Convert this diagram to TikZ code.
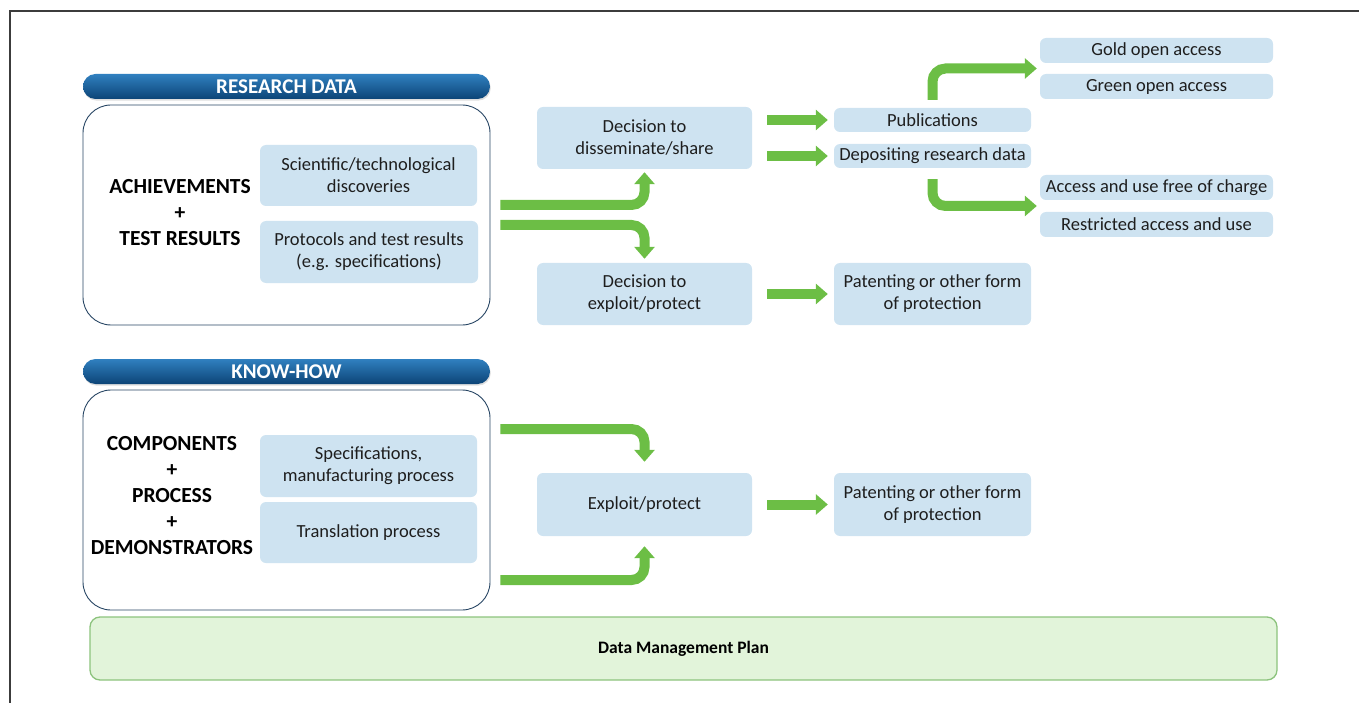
\documentclass[tikz,border=0pt]{standalone}
\usepackage{fontspec}
\setmainfont{Carlito}
\usetikzlibrary{arrows.meta,calc,shadows}

\definecolor{boxblue}{RGB}{206,227,241}
\definecolor{inktext}{RGB}{30,30,30}
\definecolor{edgeblue}{RGB}{40,70,100}
\definecolor{arrowgreen}{RGB}{108,190,69}
\definecolor{planfill}{RGB}{226,244,218}
\definecolor{planedge}{RGB}{140,195,125}
\definecolor{bannertop}{RGB}{48,128,192}
\definecolor{bannerbot}{RGB}{12,68,118}
\definecolor{framegray}{RGB}{60,60,60}

\tikzset{
  lbox/.style={fill=boxblue, rounded corners=6pt, inner sep=0pt, align=center,
    text=inktext, font=\fontsize{18.5}{22}\selectfont},
  outerbox/.style={draw=edgeblue, line width=0.9pt, fill=white, rounded corners=28pt,
    inner sep=0pt},
  banner/.style={rounded corners=12.5pt, top color=bannertop, bottom color=bannerbot,
    text=white, font=\fontsize{21}{24}\selectfont\bfseries, inner sep=0pt,
    minimum width=407pt, minimum height=25pt,
    drop shadow={opacity=0.25, shadow xshift=0.8pt, shadow yshift=-1.6pt}},
  bigword/.style={align=center, text=black, font=\fontsize{21.5}{26}\selectfont\bfseries},
  garrow/.style={draw=arrowgreen, line width=10pt,
    -{Triangle[width=20pt,length=12pt]}, rounded corners=13pt},
  planbox/.style={draw=planedge, line width=1.3pt, fill=planfill, rounded corners=10pt,
    inner sep=0pt, font=\fontsize{17.5}{20}\selectfont\bfseries, text=black},
}

\begin{document}
\begin{tikzpicture}[x=1pt,y=-1pt]
\useasboundingbox (0,0) rectangle (1359,703);

% page frame
\draw[framegray, line width=1.1pt] (10,703) -- (10,11) -- (1359,11);

% ---------- research data ----------
\node[banner] (rdh) at (286.5,86.5) {RESEARCH DATA};
\node[outerbox, minimum width=407pt, minimum height=220pt] (rbox) at (286.5,215) {};
\node[bigword] (ach) at (180,213) {ACHIEVEMENTS\\+\\TEST RESULTS};
\node[lbox, minimum width=217pt, minimum height=61pt] (sci) at (368.5,175.5)
  {Scientific/technological\\discoveries};
\node[lbox, minimum width=218pt, minimum height=62pt] (prot) at (369,252)
  {Protocols and test results\\(e.g. specifications)};

\node[lbox, minimum width=215pt, minimum height=62pt] (dis) at (644.5,138)
  {Decision to\\disseminate/share};
\node[lbox, minimum width=215pt, minimum height=62pt] (exp) at (644.5,294)
  {Decision to\\exploit/protect};

\node[lbox, minimum width=197pt, minimum height=24pt] (pubs) at (932.5,120) {Publications};
\node[lbox, minimum width=197pt, minimum height=24pt] (dep) at (932.5,156) {Depositing research data};
\node[lbox, minimum width=197pt, minimum height=62pt] (pat1) at (932.5,294)
  {Patenting or other form\\of protection};

\node[lbox, minimum width=233pt, minimum height=25pt] (gold) at (1156.5,50.5) {Gold open access};
\node[lbox, minimum width=233pt, minimum height=25pt] (green) at (1156.5,86.5) {Green open access};
\node[lbox, minimum width=233pt, minimum height=25pt] (free) at (1156.5,187.5) {Access and use free of charge};
\node[lbox, minimum width=233pt, minimum height=25pt] (restr) at (1156.5,224.5) {Restricted access and use};

\coordinate (oa) at ($(gold.south west)!0.5!(green.north west)$);
\coordinate (acc) at ($(free.south west)!0.5!(restr.north west)$);

% ---------- know-how ----------
\node[banner] (khh) at (286.5,371.5) {KNOW-HOW};
\node[outerbox, minimum width=407pt, minimum height=220pt] (kbox) at (286.5,500) {};
\node[bigword] (comp) at (172,496) {COMPONENTS\\+\\PROCESS\\+\\DEMONSTRATORS};
\node[lbox, minimum width=217pt, minimum height=62pt] (spec) at (368.5,466)
  {Specifications,\\manufacturing process};
\node[lbox, minimum width=217pt, minimum height=61pt] (trans) at (368.5,532.5)
  {Translation process};

\node[lbox, minimum width=215pt, minimum height=63pt] (ep) at (644.5,504.5) {Exploit/protect};
\node[lbox, minimum width=197pt, minimum height=63pt] (pat2) at (932.5,504.5)
  {Patenting or other form\\of protection};

% ---------- plan ----------
\node[planbox, minimum width=1187pt, minimum height=63pt] (dmp) at (683.5,648.5)
  {Data Management Plan};

% ---------- arrows ----------
\draw[garrow] ([xshift=10pt,yshift=10pt]rbox.east) -| ([yshift=-3pt]dis.south);
\draw[garrow] ([xshift=10pt,yshift=-10pt]rbox.east) -| ([yshift=4pt]exp.north);

\draw[garrow] ([xshift=15pt]dis.east |- pubs.west) -- ([xshift=-6pt]pubs.west);
\draw[garrow] ([xshift=15pt]dis.east |- dep.west) -- ([xshift=-6pt]dep.west);
\draw[garrow] ([xshift=15pt]exp.east) -- ([xshift=-6pt]pat1.west);

\draw[garrow] ([yshift=8pt]pubs.north) |- ([xshift=-3pt]oa);
\draw[garrow] ([yshift=-11pt]dep.south) |- ([xshift=-3pt]acc);

\draw[garrow] ([xshift=10pt,yshift=71pt]kbox.east) -| ([yshift=11pt]ep.north);
\draw[garrow] ([xshift=10pt,yshift=-80pt]kbox.east) -| ([yshift=-10pt]ep.south);
\draw[garrow] ([xshift=15pt]ep.east) -- ([xshift=-6pt]pat2.west);
\end{tikzpicture}
\end{document}
